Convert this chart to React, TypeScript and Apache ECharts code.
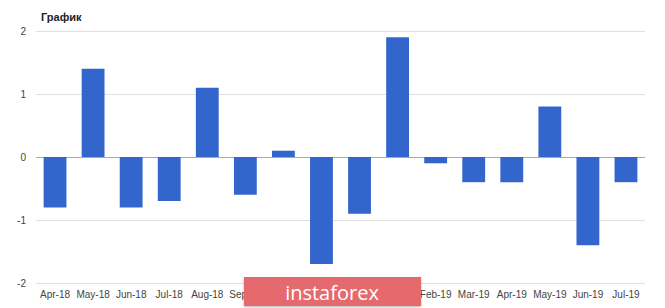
import React, { useEffect, useRef } from "react";
import * as echarts from "echarts";

const categories = [
  "Apr-18", "May-18", "Jun-18", "Jul-18", "Aug-18", "Sep-18", "Oct-18", "Nov-18",
  "Dec-18", "Jan-19", "Feb-19", "Mar-19", "Apr-19", "May-19", "Jun-19", "Jul-19",
];
const values = [-0.8, 1.4, -0.8, -0.7, 1.1, -0.6, 0.1, -1.7, -0.9, 1.9, -0.1, -0.4, -0.4, 0.8, -1.4, -0.4];
// labels hidden behind the watermark in the reference
const hiddenLabels = ["Oct-18", "Nov-18", "Dec-18", "Jan-19"];
const titleText = "График";
const watermarkText = "instaforex";

export default function App() {
  const ref = useRef<HTMLDivElement>(null);
  useEffect(() => {
    if (!ref.current) return;
    const chart = echarts.init(ref.current, null, { renderer: "svg" });
    chart.setOption({
      animation: false,
      title: {
        text: titleText,
        left: 36,
        top: 6,
        textStyle: { fontFamily: "Arial, Liberation Sans", fontSize: 11, fontWeight: "bold", color: "#222" },
      },
      grid: { left: 36, right: 20, top: 31, bottom: 25 },
      xAxis: {
        type: "category",
        data: categories,
        axisLine: { show: false },
        axisTick: { show: false },
        axisLabel: {
          color: "#444",
          fontSize: 10,
          fontFamily: "Arial, Liberation Sans",
          margin: 6,
          interval: (i: number, v: string) => hiddenLabels.indexOf(v) < 0,
        },
      },
      yAxis: {
        type: "value",
        min: -2,
        max: 2,
        interval: 1,
        axisLine: { show: false },
        axisTick: { show: false },
        axisLabel: { color: "#444", fontSize: 10, fontFamily: "Arial, Liberation Sans", margin: 10 },
        splitLine: { lineStyle: { color: "#e0e0e0", width: 1 } },
      },
      series: [
        {
          type: "bar",
          data: values,
          barWidth: "60%",
          itemStyle: { color: "#3366cc" },
          markLine: {
            silent: true,
            symbol: "none",
            label: { show: false },
            lineStyle: { color: "#aaaaaa", width: 1, type: "solid" },
            data: [{ yAxis: 0 }],
            z: 1,
          },
        },
      ],
      graphic: [
        {
          type: "rect",
          left: 244,
          top: 277,
          shape: { width: 177, height: 29 },
          style: { fill: "#e46a6e", shadowBlur: 2, shadowColor: "rgba(0,0,0,0.3)", shadowOffsetY: 1 },
          z: 100,
        },
        {
          type: "text",
          x: 332,
          y: 292,
          style: {
            text: watermarkText,
            fill: "#ffffff",
            font: "20px 'Open Sans', Arial",
            align: "center",
            verticalAlign: "middle",
          },
          z: 101,
        },
      ],
    });
    return () => chart.dispose();
  }, []);
  return <div ref={ref} style={{ width: 665, height: 308, position: "absolute", left: 0, top: 0 }} />;
}
